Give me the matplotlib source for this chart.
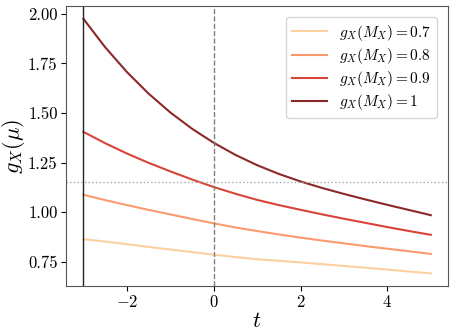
import matplotlib
matplotlib.use("Agg")
import matplotlib.pyplot as plt

plt.rcParams['font.family'] = 'serif'
plt.rcParams['font.serif'] = ['cmr10']
plt.rcParams['mathtext.fontset'] = 'cm'
plt.rcParams['axes.formatter.use_mathtext'] = True

# values, t in steps of 0.5
t = [-3, -2.5, -2, -1.5, -1, -0.5, 0, 0.5, 1, 1.5, 2, 2.5, 3, 3.5, 4, 4.5, 5]
g07 = [0.864, 0.852, 0.839, 0.825, 0.812, 0.799, 0.786, 0.774, 0.763, 0.755,
       0.747, 0.738, 0.729, 0.720, 0.711, 0.701, 0.692]
g08 = [1.088, 1.061, 1.036, 1.012, 0.989, 0.966, 0.944, 0.923, 0.905, 0.888,
       0.872, 0.857, 0.843, 0.829, 0.816, 0.803, 0.790]
g09 = [1.405, 1.348, 1.296, 1.249, 1.206, 1.165, 1.127, 1.093, 1.062, 1.036,
       1.012, 0.989, 0.967, 0.946, 0.925, 0.905, 0.886]
g10 = [1.975, 1.832, 1.707, 1.598, 1.503, 1.421, 1.350, 1.289, 1.237, 1.193,
       1.155, 1.122, 1.092, 1.064, 1.037, 1.011, 0.985]
labels = [r'$g_X(M_X) = 0.7$', r'$g_X(M_X) = 0.8$',
          r'$g_X(M_X) = 0.9$', r'$g_X(M_X) = 1$']
colors = ['#fdd0a0', '#fc9a6e', '#d9443a', '#8c2828']
h_ref = 1.15

fig = plt.figure(figsize=(4.55, 3.33), dpi=100)
ax = fig.add_axes([0.145, 0.141, 0.84, 0.841])

for y, c, lab in zip([g07, g08, g09, g10], colors, labels):
    ax.plot(t, y, color=c, lw=1.5, label=lab)

ax.axvline(t[0], color='#222222', lw=1.0)
ax.axvline(0, color='gray', lw=1.0, ls='--')
ax.axhline(h_ref, color='darkgray', lw=1.0, ls=':')

ax.set_xlabel(r'$t$', fontsize=16, labelpad=1)
ax.set_ylabel(r'$g_X(\mu)$', fontsize=16, labelpad=1)
ax.tick_params(labelsize=12, pad=2.5)
ax.set_yticks([0.75, 1.0, 1.25, 1.5, 1.75, 2.0])
ax.set_yticklabels(['0.75', '1.00', '1.25', '1.50', '1.75', '2.00'])
for s in ax.spines.values():
    s.set_color('#555555')

ax.legend(loc='upper right', fontsize=11, handlelength=2.3,
          labelspacing=0.2, borderaxespad=0.7)

fig.savefig('out.png', dpi=100)
